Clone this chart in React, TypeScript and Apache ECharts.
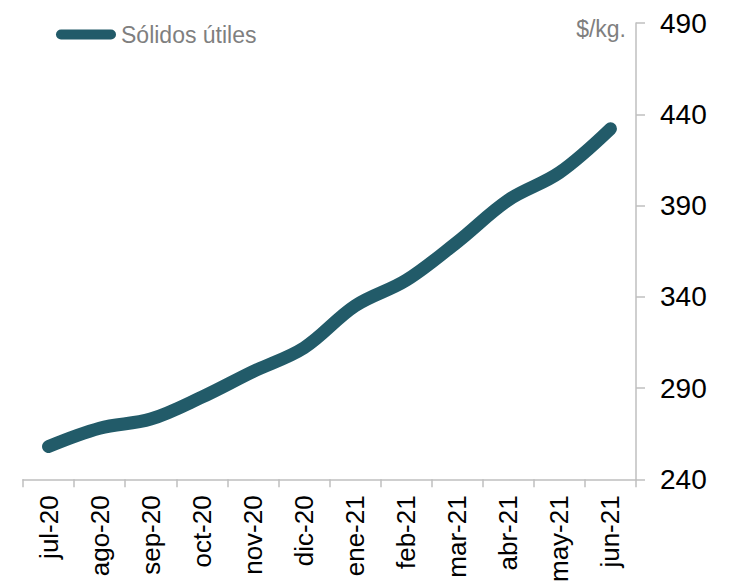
import React, { useEffect, useRef } from "react";
import * as echarts from "echarts";

const categories = ["jul-20", "ago-20", "sep-20", "oct-20", "nov-20", "dic-20", "ene-21", "feb-21", "mar-21", "abr-21", "may-21", "jun-21"];
const solidosUtiles = [258, 268, 273, 285, 299, 312, 335, 349, 370, 393, 408, 432];
const seriesName = "Sólidos útiles";
const unitLabel = "$/kg.";
const yMin = 240;
const yMax = 490;
const yInterval = 50;

const FONT = "'Liberation Sans', Arial, sans-serif";
const LINE_COLOR = "#225B69";
const AXIS_COLOR = "#BFBFBF";

export default function App() {
  const ref = useRef<HTMLDivElement>(null);
  useEffect(() => {
    if (!ref.current) return;
    const chart = echarts.init(ref.current, undefined, { renderer: "svg" });
    chart.setOption({
      animation: false,
      backgroundColor: "#ffffff",
      grid: { left: 23, right: 98, top: 23, bottom: 105, containLabel: false },
      legend: {
        left: 56,
        top: 22,
        padding: 0,
        itemWidth: 60,
        itemHeight: 10,
        icon: "path://M5,0 L55,0 A5,5 0 0 1 55,10 L5,10 A5,5 0 0 1 5,0 Z",
        textStyle: { fontFamily: FONT, fontSize: 23, color: "#7F7F7F", lineHeight: 25 },
        data: [seriesName],
      },
      graphic: [
        {
          type: "text",
          right: 108,
          top: 17,
          style: { text: unitLabel, fontFamily: FONT, fontSize: 23, fill: "#7F7F7F" },
        },
      ],
      xAxis: {
        type: "category",
        data: categories,
        boundaryGap: true,
        axisLine: { show: true, lineStyle: { color: AXIS_COLOR, width: 1.5 } },
        axisTick: { show: true, length: 8, lineStyle: { color: AXIS_COLOR, width: 1.5 } },
        axisLabel: { rotate: 90, fontFamily: FONT, fontSize: 26, color: "#000000", margin: 16 },
        splitLine: { show: false },
      },
      yAxis: {
        type: "value",
        position: "right",
        min: yMin,
        max: yMax,
        interval: yInterval,
        axisLine: { show: true, lineStyle: { color: AXIS_COLOR, width: 1.5 } },
        axisTick: { show: true, length: 9, lineStyle: { color: AXIS_COLOR, width: 1.5 } },
        axisLabel: { fontFamily: FONT, fontSize: 28, color: "#000000", margin: 24 },
        splitLine: { show: false },
      },
      series: [
        {
          name: seriesName,
          type: "line",
          data: solidosUtiles,
          smooth: 0.35,
          showSymbol: false,
          symbol: "none",
          color: LINE_COLOR,
          lineStyle: { color: LINE_COLOR, width: 13, cap: "round", join: "round" },
        },
      ],
    });
    return () => chart.dispose();
  }, []);
  return <div ref={ref} style={{ position: "fixed", left: 0, top: 0, width: 734, height: 585 }} />;
}
